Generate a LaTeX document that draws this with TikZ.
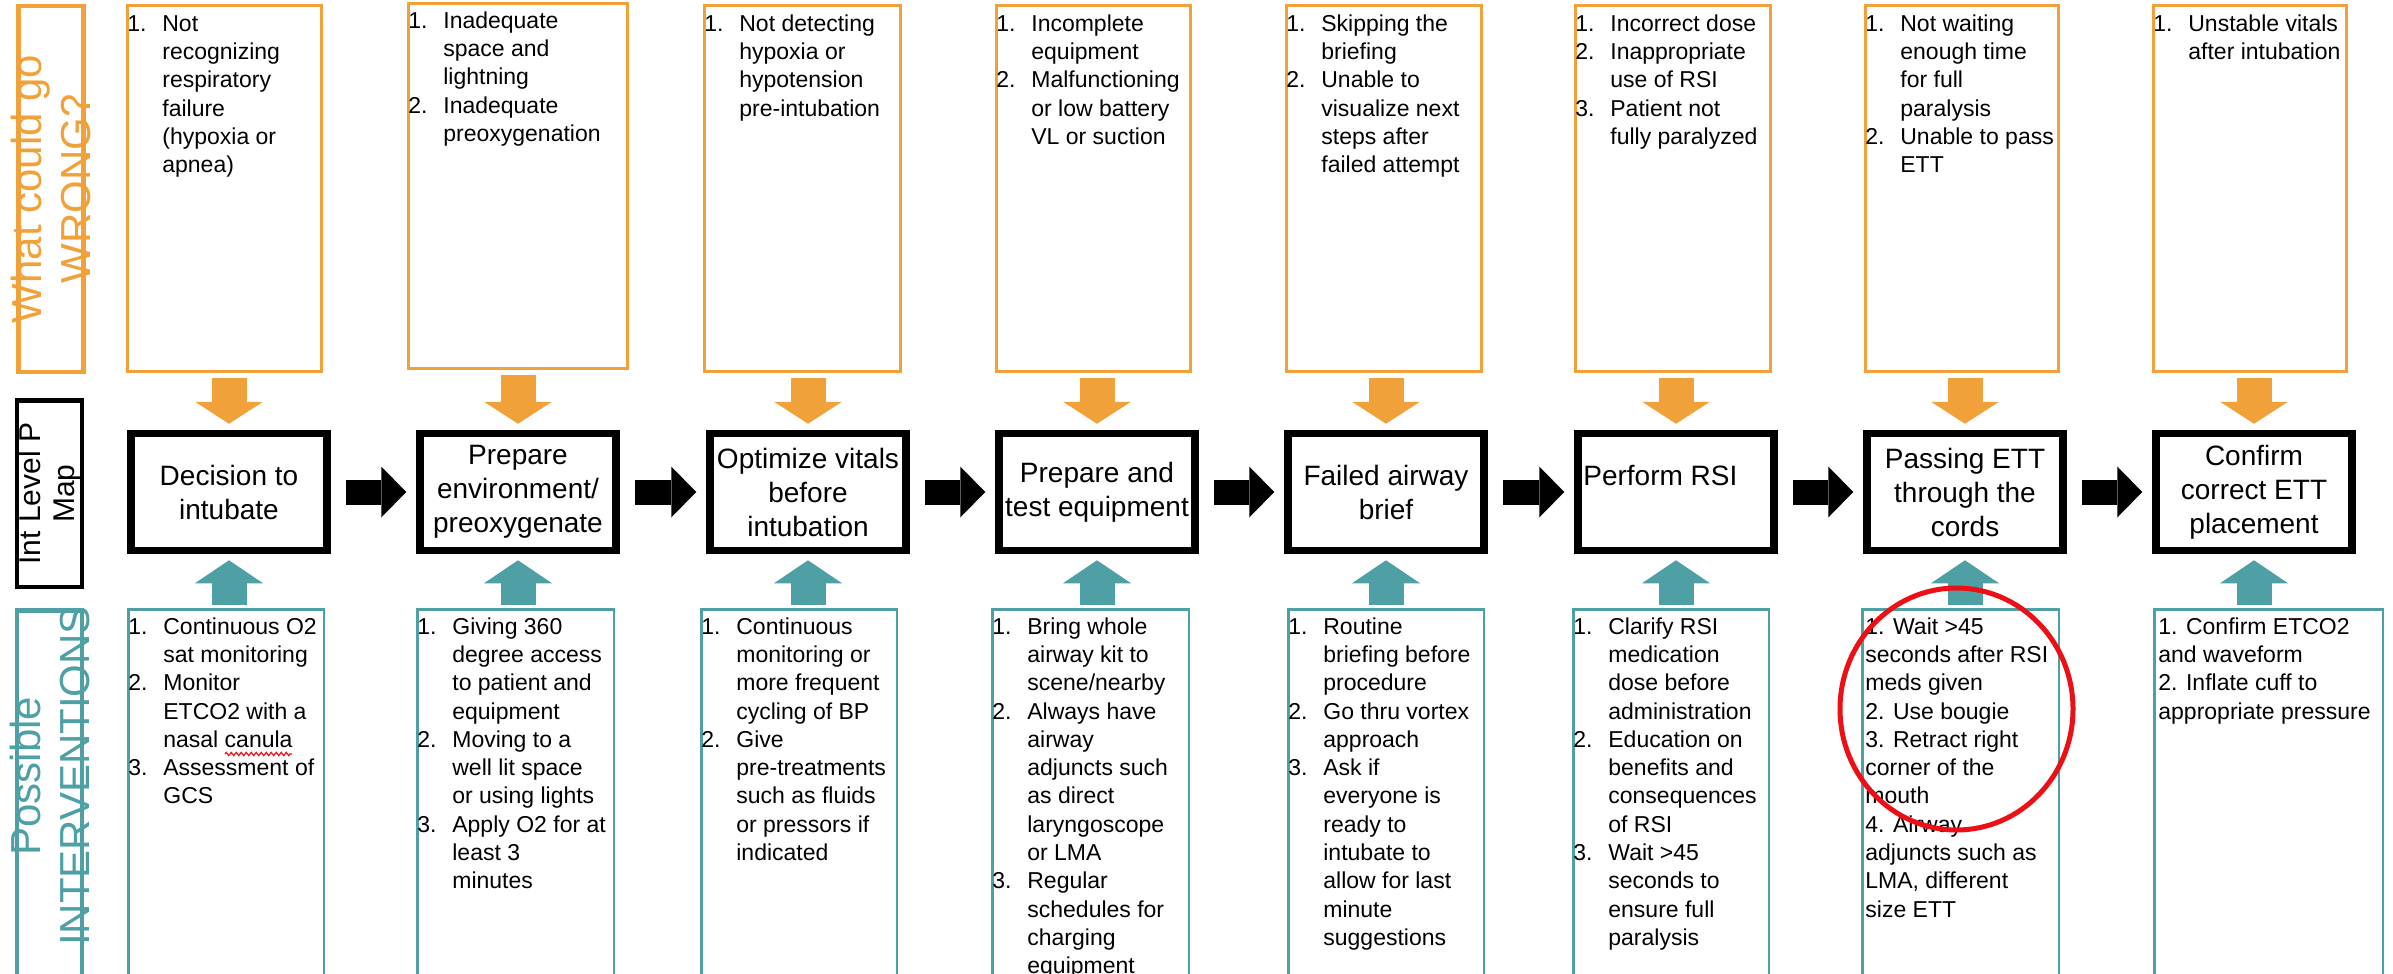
\documentclass[tikz,border=0pt]{standalone}
\usepackage{fontspec}
\setmainfont{Liberation Sans}
\usetikzlibrary{arrows.meta,decorations.pathmorphing}

\definecolor{wrongorange}{RGB}{241,161,58}
\definecolor{fixteal}{RGB}{79,160,164}
\definecolor{markred}{RGB}{236,16,22}

\newcommand{\listfont}{\fontsize{23}{28.3}\selectfont}
\newcommand{\stepfont}{\fontsize{28}{34}\selectfont}
\newcommand{\sidefont}{\fontsize{42}{49}\selectfont}
\newcommand{\mapfont}{\fontsize{30}{34}\selectfont}
\newcommand{\numlist}[1]{\begin{tabular}{@{}p{35pt}@{}l@{}}#1\end{tabular}}
\newcommand{\plainlist}[1]{\begin{tabular}{@{}l@{}}#1\end{tabular}}

\tikzset{every picture/.style={line width=0.75pt}}
\tikzset{
  wrongbox/.style={draw=wrongorange, line width=3pt, anchor=north west, minimum width=194pt, minimum height=366pt, inner sep=0pt},
  fixbox/.style={draw=fixteal, line width=2.5pt, anchor=north west, minimum width=195.5pt, minimum height=380pt, inner sep=0pt},
  stepbox/.style={draw=black, line width=7.5pt, minimum width=196pt, minimum height=117pt, inner sep=0pt, align=center, font=\stepfont},
  itemlist/.style={anchor=north west, inner sep=0pt, font=\listfont},
  sidebox/.style={line width=4.5pt, minimum width=65pt, inner sep=0pt},
  sidetext/.style={rotate=90, align=center, inner sep=0pt},
  wrongarrow/.style={wrongorange, line width=35pt, shorten <=5pt, shorten >=6pt, -{Triangle[width=68pt,length=22pt,line width=0pt]}},
  fixarrow/.style={fixteal, line width=35pt, shorten <=3pt, shorten >=6pt, -{Triangle[width=68pt,length=23pt,line width=0pt]}},
  steparrow/.style={black, line width=25pt, shorten <=15pt, shorten >=10pt, -{Triangle[width=51pt,length=25pt,line width=0pt]}},
}

\begin{document}
\begin{tikzpicture}[x=1pt,y=1pt,yscale=-1,xscale=1]
\useasboundingbox (0,0) rectangle (2393,974);
\clip (0,0) rectangle (2393,974);

%Shape: Rectangle -- row labels
\node[sidebox, draw=wrongorange, minimum height=365.5pt] (wrongside) at (51,189) {};
\node[sidebox, draw=black, minimum height=186.5pt] (mapside) at (49.5,493.5) {};
\node[sidebox, draw=fixteal, minimum height=380pt, anchor=north] (fixside) at (49.5,608) {};
% Text Node
\node[sidetext, text=wrongorange, font=\sidefont] (wrongtxt) at (wrongside.center) {What could go\\WRONG?};
% Text Node
\node[sidetext, font=\mapfont] (maptxt) at (mapside.center) {Int Level P\\Map};
% Text Node
\node[sidetext, text=fixteal, font=\sidefont] (fixtxt) at (49.5,776) {Possible\\INTERVENTIONS};

%Shape: Rectangle -- what could go wrong
\node[wrongbox] (w1) at (126,4) {};
\node[wrongbox, minimum width=219pt, minimum height=365pt] (w2) at (407,2) {};
\node[wrongbox, minimum width=196pt] (w3) at (703,4) {};
\node[wrongbox] (w4) at (995,4) {};
\node[wrongbox, minimum width=195pt] (w5) at (1285,4) {};
\node[wrongbox, minimum width=195pt] (w6) at (1574,4) {};
\node[wrongbox, minimum width=193pt] (w7) at (1864,4) {};
\node[wrongbox, minimum width=193pt] (w8) at (2152,4) {};

% Text Node
\node[itemlist] (wrong1) at (127,11) {\numlist{1.&Not\\&recognizing\\&respiratory\\&failure\\&(hypoxia or\\&apnea)}};
% Text Node
\node[itemlist] (wrong2) at (408,8) {\numlist{1.&Inadequate\\&space and\\&lightning\\2.&Inadequate\\&preoxygenation}};
% Text Node
\node[itemlist] (wrong3) at (704,11) {\numlist{1.&Not detecting\\&hypoxia or\\&hypotension\\&pre-intubation}};
% Text Node
\node[itemlist] (wrong4) at (996,11) {\numlist{1.&Incomplete\\&equipment\\2.&Malfunctioning\\&or low battery\\&VL or suction}};
% Text Node
\node[itemlist] (wrong5) at (1286,11) {\numlist{1.&Skipping the\\&briefing\\2.&Unable to\\&visualize next\\&steps after\\&failed attempt}};
% Text Node
\node[itemlist] (wrong6) at (1575,11) {\numlist{1.&Incorrect dose\\2.&Inappropriate\\&use of RSI\\3.&Patient not\\&fully paralyzed}};
% Text Node
\node[itemlist] (wrong7) at (1865,11) {\numlist{1.&Not waiting\\&enough time\\&for full\\&paralysis\\2.&Unable to pass\\&ETT}};
% Text Node
\node[itemlist] (wrong8) at (2153,11) {\numlist{1.&Unstable vitals\\&after intubation}};

%Shape: Rectangle -- process map
\node[stepbox] (s1) at (229,492) {Decision to\\intubate};
\node[stepbox] (s2) at (518,492) {Prepare\\environment/\\preoxygenate};
\node[stepbox] (s3) at (808,492) {Optimize vitals\\before\\intubation};
\node[stepbox] (s4) at (1097,492) {Prepare and\\test equipment};
\node[stepbox] (s5) at (1386,492) {Failed airway\\brief};
\node[stepbox] (s6) at (1676,492) {};
\node[stepbox] (s7) at (1965,492) {Passing ETT\\through the\\cords};
\node[stepbox] (s8) at (2254,492) {Confirm\\correct ETT\\placement};
% Text Node
\node[anchor=base west, inner sep=0pt, font=\stepfont] (s6txt) at (1583,485) {Perform RSI};

%Shape: Rectangle -- possible interventions
\node[fixbox] (f1) at (127,608) {};
\node[fixbox, minimum width=196.5pt] (f2) at (416,608) {};
\node[fixbox] (f3) at (700,608) {};
\node[fixbox, minimum width=196.5pt] (f4) at (991,608) {};
\node[fixbox] (f5) at (1287,608) {};
\node[fixbox] (f6) at (1572,608) {};
\node[fixbox, minimum width=196.5pt] (f7) at (1861,608) {};
\node[fixbox, minimum width=228.5pt] (f8) at (2153,608) {};

% Text Node
\node[itemlist] (fix1) at (128,614) {\numlist{1.&Continuous O2\\&sat monitoring\\2.&Monitor\\&ETCO2 with a\\&nasal canula\\3.&Assessment of\\&GCS}};
% Text Node
\node[itemlist] (fix2) at (417,614) {\numlist{1.&Giving 360\\&degree access\\&to patient and\\&equipment\\2.&Moving to a\\&well lit space\\&or using lights\\3.&Apply O2 for at\\&least 3\\&minutes}};
% Text Node
\node[itemlist] (fix3) at (701,614) {\numlist{1.&Continuous\\&monitoring or\\&more frequent\\&cycling of BP\\2.&Give\\&pre-treatments\\&such as fluids\\&or pressors if\\&indicated}};
% Text Node
\node[itemlist] (fix4) at (992,614) {\numlist{1.&Bring whole\\&airway kit to\\&scene/nearby\\2.&Always have\\&airway\\&adjuncts such\\&as direct\\&laryngoscope\\&or LMA\\3.&Regular\\&schedules for\\&charging\\&equipment}};
% Text Node
\node[itemlist] (fix5) at (1288,614) {\numlist{1.&Routine\\&briefing before\\&procedure\\2.&Go thru vortex\\&approach\\3.&Ask if\\&everyone is\\&ready to\\&intubate to\\&allow for last\\&minute\\&suggestions}};
% Text Node
\node[itemlist] (fix6) at (1573,614) {\numlist{1.&Clarify RSI\\&medication\\&dose before\\&administration\\2.&Education on\\&benefits and\\&consequences\\&of RSI\\3.&Wait >45\\&seconds to\\&ensure full\\&paralysis}};
% Text Node
\node[itemlist] (fix7) at (1865,614) {\plainlist{1. Wait >45\\seconds after RSI\\meds given\\2. Use bougie\\3. Retract right\\corner of the\\mouth\\4. Airway\\adjuncts such as\\LMA, different\\size ETT}};
% Text Node
\node[itemlist] (fix8) at (2158,614) {\plainlist{1. Confirm ETCO2\\and waveform\\2. Inflate cuff to\\appropriate pressure}};

%Straight Lines -- orange block arrows
\draw[wrongarrow] (s1.north |- w1.south) -- (s1.north);
\draw[wrongarrow] (s2.north |- w2.south) -- (s2.north);
\draw[wrongarrow] (s3.north |- w3.south) -- (s3.north);
\draw[wrongarrow] (s4.north |- w4.south) -- (s4.north);
\draw[wrongarrow] (s5.north |- w5.south) -- (s5.north);
\draw[wrongarrow] (s6.north |- w6.south) -- (s6.north);
\draw[wrongarrow] (s7.north |- w7.south) -- (s7.north);
\draw[wrongarrow] (s8.north |- w8.south) -- (s8.north);

%Straight Lines -- teal block arrows
\draw[fixarrow] (s1.south |- f1.north) -- (s1.south);
\draw[fixarrow] (s2.south |- f2.north) -- (s2.south);
\draw[fixarrow] (s3.south |- f3.north) -- (s3.south);
\draw[fixarrow] (s4.south |- f4.north) -- (s4.south);
\draw[fixarrow] (s5.south |- f5.north) -- (s5.south);
\draw[fixarrow] (s6.south |- f6.north) -- (s6.south);
\draw[fixarrow] (s7.south |- f7.north) -- (s7.south);
\draw[fixarrow] (s8.south |- f8.north) -- (s8.south);

%Straight Lines -- black block arrows
\draw[steparrow] (s1.east) -- (s2.west);
\draw[steparrow] (s2.east) -- (s3.west);
\draw[steparrow] (s3.east) -- (s4.west);
\draw[steparrow] (s4.east) -- (s5.west);
\draw[steparrow] (s5.east) -- (s6.west);
\draw[steparrow] (s6.east) -- (s7.west);
\draw[steparrow] (s7.east) -- (s8.west);

%Shape: Ellipse
\draw[markred, line width=5pt] (1956.5,709) ellipse [x radius=116.5, y radius=121];
%Curve Lines -- spell check mark
\draw[markred, line width=1.2pt, decorate, decoration={zigzag, amplitude=1.6pt, segment length=5pt}] (225,754) -- (292,754);

\end{tikzpicture}
\end{document}
